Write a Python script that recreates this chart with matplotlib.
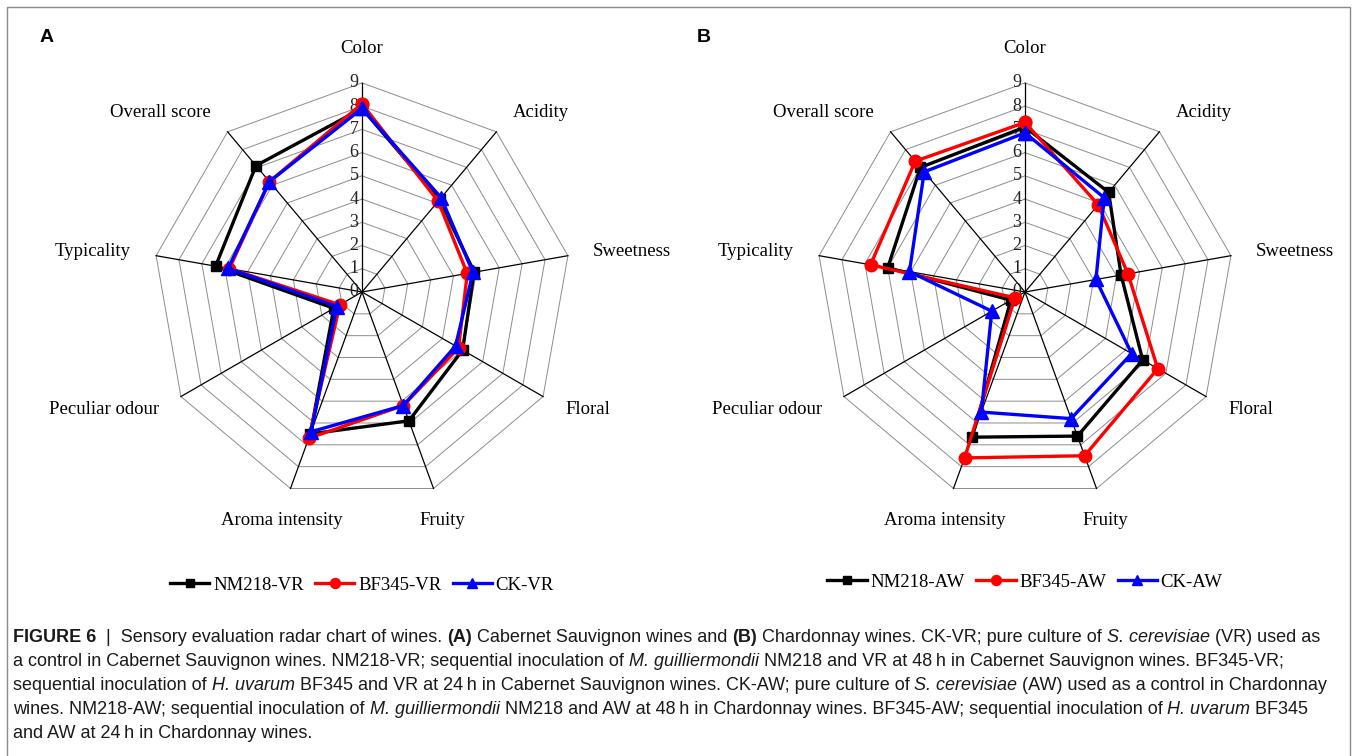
import numpy as np
import matplotlib
matplotlib.use("Agg")
import matplotlib.pyplot as plt
from matplotlib.patches import Rectangle

# sensory attributes, clockwise from the top
atributos = ['Color', 'Acidity', 'Sweetness', 'Floral', 'Fruity',
             'Aroma intensity', 'Peculiar odour', 'Typicality', 'Overall score']
niveis = list(range(0, 10))

# (A) Cabernet Sauvignon
nm218_vr = [7.9, 5.2, 4.9, 5.0, 5.9, 6.5, 1.4, 6.4, 7.1]
bf345_vr = [8.1, 5.1, 4.6, 4.8, 5.2, 6.7, 1.1, 5.8, 6.2]
ck_vr = [7.9, 5.3, 4.85, 4.65, 5.2, 6.4, 1.25, 5.85, 6.2]

# (B) Chardonnay
nm218_aw = [7.1, 5.6, 4.2, 5.85, 6.6, 6.65, 0.7, 6.0, 7.0]
bf345_aw = [7.3, 4.9, 4.5, 6.6, 7.5, 7.6, 0.5, 6.75, 7.35]
ck_aw = [6.85, 5.3, 3.1, 5.3, 5.8, 5.5, 1.65, 5.05, 6.75]

nomes_a = ['NM218-VR', 'BF345-VR', 'CK-VR']
nomes_b = ['NM218-AW', 'BF345-AW', 'CK-AW']

SERIF = 'Liberation Serif'
W, H = 1356, 756
fig = plt.figure(figsize=(W / 100, H / 100), dpi=100)

# frame around the figure panel
fig.add_artist(Rectangle((7 / W, -0.05), 1343 / W, 1.05 - 7 / H, transform=fig.transFigure,
                         fill=False, edgecolor='#8a8a8a', linewidth=1.0))

ang = np.deg2rad(np.arange(len(atributos)) * 360 / len(atributos))


def xy(vals):
    v = np.asarray(vals, dtype=float)
    return v * np.sin(ang), v * np.cos(ang)


def radar(cx, cy, series, nomes, leg_y):
    half = 230
    ax = fig.add_axes([(cx - half) / W, (H - cy - half) / H, 2 * half / W, 2 * half / H])
    lim = 9.9
    ax.set_xlim(-lim, lim)
    ax.set_ylim(-lim, lim)
    ax.set_aspect('equal')
    ax.axis('off')

    top = max(niveis)
    for n in niveis[1:]:
        gx, gy = xy([n] * len(atributos))
        ax.plot(np.append(gx, gx[0]), np.append(gy, gy[0]), color='#8c8c8c', lw=0.7, zorder=1)
    sx, sy = xy([top] * len(atributos))
    for x, y in zip(sx, sy):
        ax.plot([0, x], [0, y], color='black', lw=0.9, zorder=2)
    for n in niveis:
        ax.text(-0.15, n, str(n), ha='right', va='center', fontsize=13,
                family=SERIF, color='#222222', zorder=3)

    estilos = [('black', 's', 7.5), ('red', 'o', 9), ('blue', '^', 9.5)]
    for vals, nome, (cor, mk, ms) in zip(series, nomes, estilos):
        px, py = xy(vals)
        ax.plot(np.append(px, px[0]), np.append(py, py[0]), color=cor, lw=2.4,
                marker=mk, markersize=ms, label=nome, zorder=4)

    r_lab = 10.1
    for a, nome in zip(ang, atributos):
        s, c = np.sin(a), np.cos(a)
        ha = 'left' if s > 0.5 else ('right' if s < -0.5 else 'center')
        va = 'bottom' if c > 0.9 else ('top' if c < -0.9 else 'center')
        ax.text(r_lab * s, r_lab * c, nome, ha=ha, va=va, fontsize=13.5,
                family=SERIF, clip_on=False)

    ax.legend(loc='center', bbox_to_anchor=(0.5, (H - leg_y - (H - cy - half)) / (2 * half)),
              ncol=3, frameon=False, prop={'family': SERIF, 'size': 13.5},
              handlelength=2.1, handletextpad=0.2, columnspacing=0.6, markerscale=0.8)
    return ax


radar(362, 292, [nm218_vr, bf345_vr, ck_vr], nomes_a, 585)
radar(1025, 292, [nm218_aw, bf345_aw, ck_aw], nomes_b, 582)

fig.text(40 / W, 1 - 38 / H, 'A', fontsize=14, weight='bold', family='Liberation Sans', va='center')
fig.text(697 / W, 1 - 38 / H, 'B', fontsize=14, weight='bold', family='Liberation Sans', va='center')

# caption, drawn piece by piece to mix bold and italic
legenda = [
    [('FIGURE 6', 'bold', 'normal'), ('  |  Sensory evaluation radar chart of wines. ', 'normal', 'normal'),
     ('(A)', 'bold', 'normal'), (' Cabernet Sauvignon wines and ', 'normal', 'normal'),
     ('(B)', 'bold', 'normal'), (' Chardonnay wines. CK-VR; pure culture of ', 'normal', 'normal'),
     ('S. cerevisiae', 'normal', 'italic'), (' (VR) used as', 'normal', 'normal')],
    [('a control in Cabernet Sauvignon wines. NM218-VR; sequential inoculation of ', 'normal', 'normal'),
     ('M. guilliermondii', 'normal', 'italic'),
     (' NM218 and VR at 48\u2009h in Cabernet Sauvignon wines. BF345-VR;', 'normal', 'normal')],
    [('sequential inoculation of ', 'normal', 'normal'), ('H. uvarum', 'normal', 'italic'),
     (' BF345 and VR at 24\u2009h in Cabernet Sauvignon wines. CK-AW; pure culture of ', 'normal', 'normal'),
     ('S. cerevisiae', 'normal', 'italic'), (' (AW) used as a control in Chardonnay', 'normal', 'normal')],
    [('wines. NM218-AW; sequential inoculation of ', 'normal', 'normal'),
     ('M. guilliermondii', 'normal', 'italic'),
     (' NM218 and AW at 48\u2009h in Chardonnay wines. BF345-AW; sequential inoculation of ', 'normal', 'normal'),
     ('H. uvarum', 'normal', 'italic'), (' BF345', 'normal', 'normal')],
    [('and AW at 24\u2009h in Chardonnay wines.', 'normal', 'normal')],
]

renderer = fig.canvas.get_renderer()
linhas_y = [638, 662, 686, 710, 734]
for y, pecas in zip(linhas_y, legenda):
    x = 13
    for txt, peso, estilo in pecas:
        t = fig.text(x / W, 1 - y / H, txt, fontsize=13, weight=peso, style=estilo,
                     family='Liberation Sans', va='center', color='#1a1a1a')
        x += t.get_window_extent(renderer).width

fig.savefig('out.png', dpi=100)
